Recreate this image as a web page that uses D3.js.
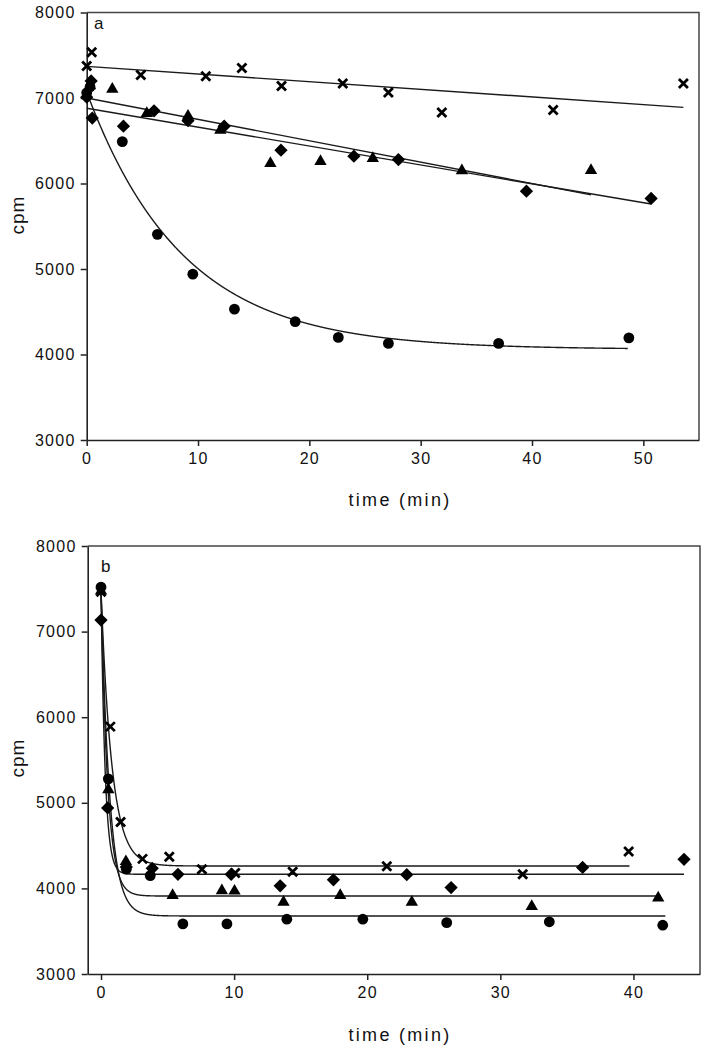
<!DOCTYPE html>
<html><head><meta charset="utf-8">
<script src="https://cdn.jsdelivr.net/npm/d3@7"></script>
<style>
body{margin:0;background:#fff}
svg{display:block}
text{font-family:Arial,"Liberation Sans",sans-serif;fill:#111}
</style>
</head><body>
<svg id="c" width="707" height="1050"></svg>
<script>
// ---------- Panel a data ----------
const aCircleT   = [0, 0.3, 3.2, 6.35, 9.53, 13.27, 18.73, 22.6, 27.1, 37.0, 48.7];
const aCircleY   = [7060, 7130, 6490, 5405, 4940, 4530, 4385, 4200, 4130, 4130, 4195];
const aDiamondT  = [0, 0.4, 0.5, 3.3, 6.05, 9.1, 12.35, 17.45, 24.0, 28.0, 39.5, 50.7];
const aDiamondY  = [7010, 7200, 6765, 6670, 6850, 6735, 6670, 6390, 6320, 6280, 5910, 5825];
const aTriangleT = [0.3, 2.3, 5.4, 9.1, 12.0, 16.5, 21.0, 25.7, 33.7, 45.3];
const aTriangleY = [7150, 7110, 6825, 6795, 6630, 6240, 6265, 6300, 6155, 6160];
const aCrossT    = [0, 0.45, 4.86, 10.7, 13.94, 17.5, 23.0, 27.1, 31.9, 41.9, 53.6];
const aCrossY    = [7375, 7535, 7270, 7255, 7350, 7140, 7170, 7065, 6830, 6860, 7170];
// fitted lines (panel a): [intercept, slope, tEnd]
const aCrossFit    = [7370, -8.95, 53.6];
const aTriangleFit = [7000, -25.0, 45.3];
const aDiamondFit  = [6880, -22.1, 50.7];
// fitted exponential (panel a circles): [plateau, span, rate, tEnd]
const aCircleFit   = [4060, 3010, 0.116, 48.6];

// ---------- Panel b data ----------
const bCircleT   = [0, 0.55, 1.9, 3.7, 6.15, 9.46, 13.96, 19.67, 25.97, 33.68, 42.2];
const bCircleY   = [7520, 5280, 4225, 4150, 3585, 3585, 3640, 3640, 3600, 3610, 3570];
const bDiamondT  = [0, 0.5, 1.9, 3.85, 5.78, 9.78, 13.46, 17.46, 22.97, 26.3, 36.18, 43.8];
const bDiamondY  = [7135, 4940, 4250, 4235, 4165, 4165, 4030, 4100, 4160, 4010, 4245, 4340];
const bTriangleT = [0, 0.55, 1.87, 5.38, 9.08, 10.03, 13.71, 17.97, 23.35, 32.36, 41.86];
const bTriangleY = [7480, 5160, 4320, 3925, 3980, 3975, 3845, 3925, 3845, 3795, 3895];
const bCrossT    = [0, 0.7, 1.47, 3.12, 5.13, 7.58, 10.08, 14.4, 21.47, 31.68, 39.64];
const bCrossY    = [7465, 5890, 4775, 4345, 4370, 4225, 4180, 4195, 4260, 4165, 4430];
// fitted exponentials (panel b): [plateau, span, rate, tEnd]
const bCircleFit   = [3678, 3842, 1.54, 42.4];
const bTriangleFit = [3911, 3579, 2.0, 42.0];
const bDiamondFit  = [4165, 3335, 3.25, 43.8];
const bCrossFit    = [4262, 3208, 1.22, 39.7];

const yTicks = [3000, 4000, 5000, 6000, 7000, 8000];
const aXTicks = [0, 10, 20, 30, 40, 50];
const bXTicks = [0, 10, 20, 30, 40];

const svg = d3.select("#c");
const FONT = "Arial, 'Liberation Sans', sans-serif";

function drawMarker(g, type, x, y) {
  if (type === "circle") {
    g.append("circle").attr("cx", x).attr("cy", y).attr("r", 5.4).attr("fill", "#000");
  } else if (type === "diamond") {
    g.append("path").attr("d", d3.symbol(d3.symbolSquare, 88)())
      .attr("transform", `translate(${x},${y}) rotate(45)`).attr("fill", "#000");
  } else if (type === "triangle") {
    g.append("path").attr("d", d3.symbol(d3.symbolTriangle, 66)())
      .attr("transform", `translate(${x},${y+0.5})`).attr("fill", "#000");
  } else if (type === "cross") {
    const s = 4.5;
    g.append("path").attr("d", `M${x-s},${y-s}L${x+s},${y+s}M${x-s},${y+s}L${x+s},${y-s}`)
      .attr("stroke", "#000").attr("stroke-width", 2.8).attr("fill", "none");
  }
}

function panel(cfg) {
  const x = d3.scaleLinear().domain(cfg.xDomain).range([cfg.left, cfg.right]);
  const y = d3.scaleLinear().domain([3000, 8000]).range([cfg.bottom, cfg.top]);
  const g = svg.append("g");

  // frame top/right
  g.append("path").attr("d", `M${cfg.left},${cfg.top}H${cfg.right}V${cfg.bottom}`)
    .attr("fill", "none").attr("stroke", "#444").attr("stroke-width", 1.5);

  // axes
  const ya = g.append("g").attr("transform", `translate(${cfg.left},0)`)
    .call(d3.axisLeft(y).tickValues(yTicks).tickFormat(d3.format("d")).tickSize(6).tickSizeOuter(0).tickPadding(5));
  const xa = g.append("g").attr("transform", `translate(0,${cfg.bottom})`)
    .call(d3.axisBottom(x).tickValues(cfg.xTicks).tickFormat(d3.format("d")).tickSize(6).tickSizeOuter(0).tickPadding(7));
  [ya, xa].forEach(a => {
    a.attr("font-size", null).attr("font-family", null);
    a.select(".domain").attr("stroke", "#222").attr("stroke-width", 1.6);
    a.selectAll(".tick line").attr("stroke", "#222").attr("stroke-width", 1.5);
    a.selectAll("text").style("font-size", "16px").style("fill", "#111")
      .style("font-family", FONT).style("letter-spacing", "1.3px");
  });

  // labels
  g.append("text").attr("x", cfg.xLabelX).attr("y", cfg.xLabelY).attr("text-anchor", "middle")
    .style("font-size", "18px").style("letter-spacing", "2.3px").style("font-family", FONT).text("time (min)");
  g.append("text").attr("transform", `translate(${cfg.yLabelX},${cfg.yLabelY}) rotate(-90)`)
    .attr("text-anchor", "middle").style("font-size", "19px").style("letter-spacing", "1px")
    .style("font-family", FONT).text("cpm");
  g.append("text").attr("x", cfg.tagX).attr("y", cfg.tagY).style("font-size", "17px")
    .style("font-family", FONT).text(cfg.tag);

  // fit curves
  const line = d3.line().x(d => x(d[0])).y(d => y(d[1]));
  cfg.fits.forEach(f => {
    let pts;
    if (f.kind === "lin") {
      const [b0, b1, tEnd] = f.p;
      pts = [[0, b0], [tEnd, b0 + b1 * tEnd]];
    } else {
      const [P, A, k, tEnd] = f.p;
      pts = d3.range(0, tEnd, 0.02).concat([tEnd]).map(t => [t, P + A * Math.exp(-k * t)]);
    }
    g.append("path").attr("d", line(pts)).attr("fill", "none")
      .attr("stroke", "#1a1a1a").attr("stroke-width", 1.4);
  });

  // markers
  cfg.series.forEach(s => {
    s.t.forEach((t, i) => drawMarker(g, s.type, x(t), y(s.v[i])));
  });
}

panel({
  xDomain: [0, 55], left: 86.7, right: 699, top: 12.5, bottom: 440,
  xTicks: aXTicks, xLabelX: 400, xLabelY: 506, yLabelX: 24, yLabelY: 215,
  tag: "a", tagX: 94, tagY: 29,
  fits: [
    {kind: "lin", p: aCrossFit},
    {kind: "lin", p: aTriangleFit},
    {kind: "lin", p: aDiamondFit},
    {kind: "exp", p: aCircleFit}
  ],
  series: [
    {type: "cross", t: aCrossT, v: aCrossY},
    {type: "triangle", t: aTriangleT, v: aTriangleY},
    {type: "diamond", t: aDiamondT, v: aDiamondY},
    {type: "circle", t: aCircleT, v: aCircleY}
  ]
});

panel({
  xDomain: [-1, 45], left: 87.7, right: 700, top: 546, bottom: 974,
  xTicks: bXTicks, xLabelX: 400, xLabelY: 1041, yLabelX: 24, yLabelY: 758,
  tag: "b", tagX: 101, tagY: 571.5,
  fits: [
    {kind: "exp", p: bCrossFit},
    {kind: "exp", p: bDiamondFit},
    {kind: "exp", p: bTriangleFit},
    {kind: "exp", p: bCircleFit}
  ],
  series: [
    {type: "cross", t: bCrossT, v: bCrossY},
    {type: "triangle", t: bTriangleT, v: bTriangleY},
    {type: "diamond", t: bDiamondT, v: bDiamondY},
    {type: "circle", t: bCircleT, v: bCircleY}
  ]
});
</script>
</body></html>
